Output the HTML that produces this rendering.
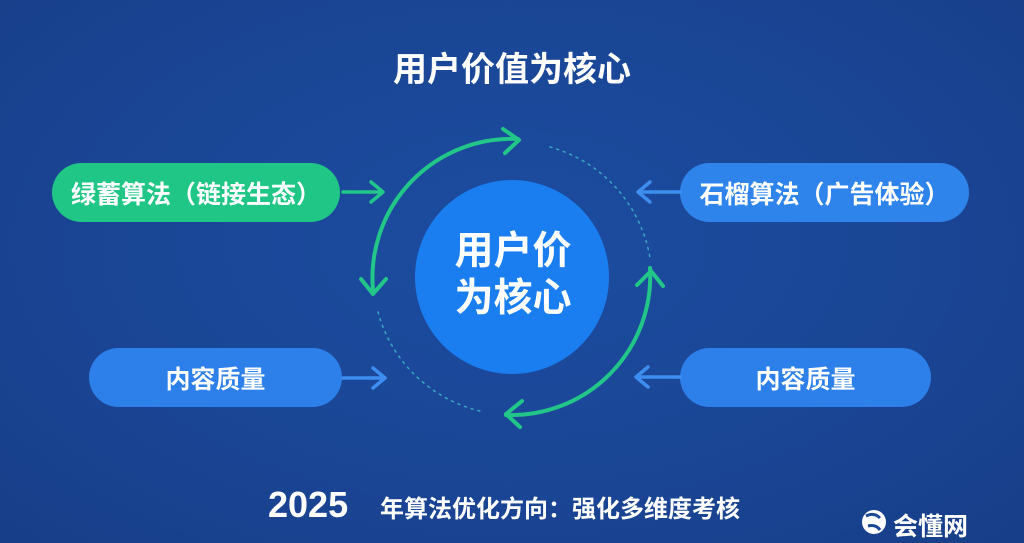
<!DOCTYPE html>
<html><head><meta charset="utf-8"><style>
body{margin:0;width:1024px;height:543px;overflow:hidden;background:radial-gradient(ellipse at 50% 45%,#1c4ca0 0%,#1a4594 60%,#173e88 100%);font-family:"Liberation Sans","Noto Sans CJK SC",sans-serif;color:#fff;position:relative}
.t{position:absolute;font-weight:bold;white-space:nowrap}
.pill{position:absolute;border-radius:30px;display:flex;align-items:center;justify-content:center;font-weight:bold;font-size:25px;color:#fff}
</style></head><body>
<div class="t" style="left:0;width:1024px;text-align:center;top:42px;font-size:34px">用户价值为核心</div>
<div class="pill" style="left:52px;top:163px;width:288px;height:59px;background:#20c685">绿蓄算法（链接生态）</div>
<div class="pill" style="left:680px;top:163px;width:289px;height:59px;background:#2f84ec">石榴算法（广告体验）</div>
<div class="pill" style="left:89px;top:348px;width:253px;height:59px;background:#2d7fea">内容质量</div>
<div class="pill" style="left:680px;top:348px;width:251px;height:59px;background:#2d7fea">内容质量</div>
<svg width="1024" height="543" style="position:absolute;left:0;top:0">
<circle cx="512" cy="277" r="97" fill="#1a7ef0"/>
<g fill="none" stroke-linecap="round" stroke-linejoin="round">
<path d="M373 290 A139 139 0 0 1 518 139" stroke="#22c688" stroke-width="4"/>
<path d="M503 129 L519 140 L505 153" stroke="#22c688" stroke-width="4"/>
<path d="M361 279 L373 294 L386 279" stroke="#22c688" stroke-width="4"/>
<path d="M650 268 A139 139 0 0 1 506 415" stroke="#22c688" stroke-width="4"/>
<path d="M637 285 L651 271 L663 286" stroke="#22c688" stroke-width="4"/>
<path d="M522 401 L506 414 L520 427" stroke="#22c688" stroke-width="4"/>
<path d="M550 147 A139 139 0 0 1 650 258" stroke="#3aa7c0" stroke-width="1.5" stroke-dasharray="2 5"/>
<path d="M378 312 A139 139 0 0 0 480 411" stroke="#3aa7c0" stroke-width="1.5" stroke-dasharray="2 5"/>
<path d="M343 192 L383 192 M371 182 L383 192 L371 202" stroke="#22c688" stroke-width="3.5"/>
<path d="M343 378 L385 378 M373 368 L385 378 L373 388" stroke="#3d8ef0" stroke-width="3.5"/>
<path d="M680 192 L638 192 M650 182 L638 192 L650 202" stroke="#3d8ef0" stroke-width="3.5"/>
<path d="M680 377 L636 377 M648 367 L636 377 L648 387" stroke="#3d8ef0" stroke-width="3.5"/>
</g>
<text x="513" y="264" text-anchor="middle" font-size="39" font-weight="bold" fill="#fff" font-family="Liberation Sans, Noto Sans CJK SC, sans-serif">用户价</text>
<text x="513" y="311" text-anchor="middle" font-size="39" font-weight="bold" fill="#fff" font-family="Liberation Sans, Noto Sans CJK SC, sans-serif">为核心</text>
<circle cx="874" cy="522" r="12" fill="#fff"/>
<path d="M866 516 Q874 512 880 518 M868 526 Q876 524 880 530" stroke="#1a4898" stroke-width="3" fill="none"/>
</svg>
<div class="t" style="left:268px;top:484px;font-size:36px">2025</div>
<div class="t" style="left:380px;top:489px;font-size:24px">年算法优化方向：强化多维度考核</div>
<div class="t" style="left:893px;top:507px;font-size:25px">会懂网</div>
</body></html>
